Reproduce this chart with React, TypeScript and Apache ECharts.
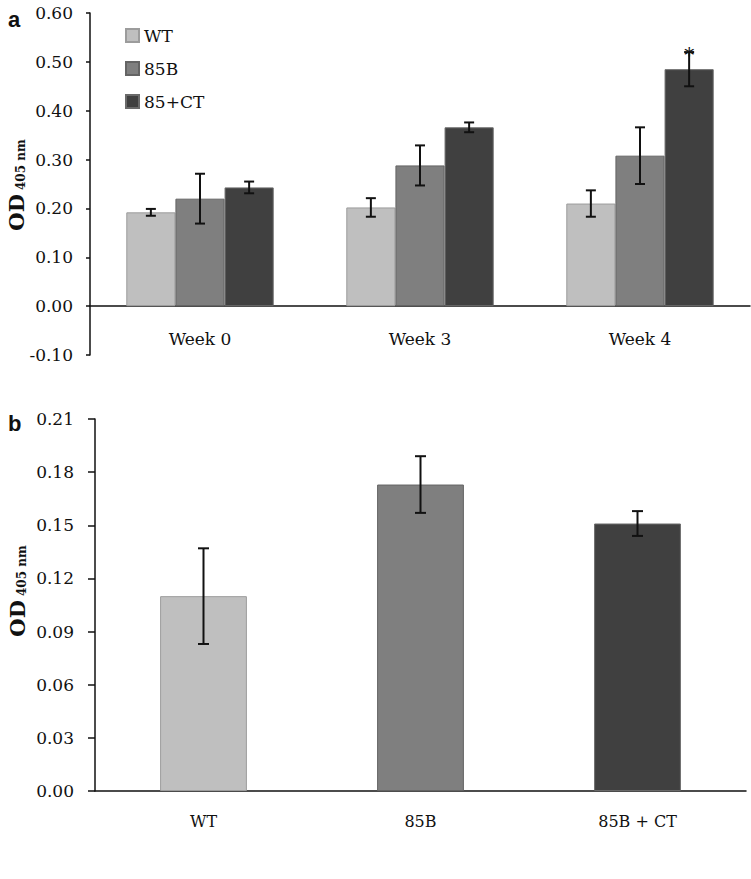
import React, { useEffect, useRef } from "react";
import * as echarts from "echarts";

// ---- Panel a data ----
const categoriesA = ["Week 0", "Week 3", "Week 4"];
const seriesNamesA = ["WT", "85B", "85+CT"];
const wtA = [0.192, 0.202, 0.21];
const b85A = [0.22, 0.288, 0.308];
const ctA = [0.243, 0.366, 0.485];
const wtErrA = [0.007, 0.019, 0.027];
const b85ErrA = [0.051, 0.041, 0.058];
const ctErrA = [0.012, 0.01, 0.035];
const ctSigA = [false, false, true];
const yMinA = -0.1;
const yMaxA = 0.6;
const yStepA = 0.1;

// ---- Panel b data ----
const categoriesB = ["WT", "85B", "85B + CT"];
const valuesB = [0.11, 0.173, 0.151];
const errB = [0.027, 0.016, 0.007];
const yMinB = 0;
const yMaxB = 0.21;
const yStepB = 0.03;

const fills = ["#bfbfbf", "#7f7f7f", "#404040"];
const borders = ["#9c9c9c", "#646464", "#6a6a6a"];
const SERIF = "'DejaVu Serif', serif";
const CAT_GAP_A = 0.33;

export default function App() {
  const ref = useRef<HTMLDivElement>(null);
  useEffect(() => {
    if (!ref.current) return;
    const chart = echarts.init(ref.current, null, { renderer: "svg" });

    const valsA = [wtA, b85A, ctA];
    const errsA = [wtErrA, b85ErrA, ctErrA];
    const errDataA: any[] = [];
    valsA.forEach((arr, s) =>
      arr.forEach((v, c) => {
        errDataA.push([c, v, errsA[s][c], s, s === 2 && ctSigA[c] ? 1 : 0]);
      })
    );
    const errDataB = valuesB.map((v, c) => [c, v, errB[c]]);

    const errRenderA = (params: any, api: any) => {
      const c = api.value(0);
      const v = api.value(1);
      const e = api.value(2);
      const s = api.value(3);
      const sig = api.value(4);
      const band = api.size([1, 0])[0];
      const bw = (band * (1 - CAT_GAP_A)) / 3;
      const x = api.coord([c, 0])[0] + (s - 1) * bw;
      const yt = api.coord([c, v + e])[1];
      const yb = api.coord([c, v - e])[1];
      const st = { stroke: "#111", lineWidth: 2 };
      const children: any[] = [
        { type: "line", shape: { x1: x, y1: yt, x2: x, y2: yb }, style: st },
        { type: "line", shape: { x1: x - 5, y1: yt, x2: x + 5, y2: yt }, style: st },
        { type: "line", shape: { x1: x - 5, y1: yb, x2: x + 5, y2: yb }, style: st },
      ];
      if (sig) {
        children.push({
          type: "text",
          x: x,
          y: yt + 3,
          style: {
            text: "*",
            fontSize: 20,
            fontFamily: SERIF,
            fill: "#111",
            align: "center",
            verticalAlign: "middle",
          },
        });
      }
      return { type: "group", children };
    };

    const errRenderB = (params: any, api: any) => {
      const c = api.value(0);
      const v = api.value(1);
      const e = api.value(2);
      const x = api.coord([c, 0])[0];
      const yt = api.coord([c, v + e])[1];
      const yb = api.coord([c, v - e])[1];
      const st = { stroke: "#111", lineWidth: 2 };
      return {
        type: "group",
        children: [
          { type: "line", shape: { x1: x, y1: yt, x2: x, y2: yb }, style: st },
          { type: "line", shape: { x1: x - 5.5, y1: yt, x2: x + 5.5, y2: yt }, style: st },
          { type: "line", shape: { x1: x - 5.5, y1: yb, x2: x + 5.5, y2: yb }, style: st },
        ],
      };
    };

    const axisLine = { lineStyle: { color: "#111", width: 1.5 } };
    const titleRich = {
      a: { fontSize: 21, fontWeight: "bold", fontFamily: SERIF, fill: "#111", verticalAlign: "bottom" },
      b: { fontSize: 12, fontWeight: "bold", fontFamily: SERIF, fill: "#111", verticalAlign: "bottom" },
    };

    chart.setOption({
      animation: false,
      textStyle: { fontFamily: SERIF },
      grid: [
        { left: 90, top: 13, width: 660, height: 342 },
        { left: 95, top: 419, width: 651, height: 372 },
      ],
      legend: {
        data: seriesNamesA,
        orient: "vertical",
        left: 125,
        top: 27,
        padding: 0,
        itemWidth: 13,
        itemHeight: 13,
        itemGap: 16,
        icon: "rect",
        textStyle: { fontFamily: SERIF, fontSize: 17, color: "#111" },
      },
      xAxis: [
        {
          type: "category",
          gridIndex: 0,
          data: categoriesA,
          axisLine,
          axisTick: { length: 6, lineStyle: { color: "#111", width: 1.5 } },
          axisLabel: { color: "#111", fontSize: 17, fontFamily: SERIF, margin: -25 },
        },
        {
          type: "category",
          gridIndex: 1,
          data: categoriesB,
          axisLine,
          axisTick: { length: 6, lineStyle: { color: "#111", width: 1.5 } },
          axisLabel: { color: "#111", fontSize: 16, fontFamily: SERIF, margin: 22 },
        },
      ],
      yAxis: [
        {
          type: "value",
          gridIndex: 0,
          min: yMinA,
          max: yMaxA,
          interval: yStepA,
          splitLine: { show: false },
          axisLine: { show: true, ...axisLine },
          axisTick: { show: true, length: 4, lineStyle: { color: "#111", width: 1.5 } },
          axisLabel: {
            color: "#111",
            fontSize: 17,
            fontFamily: SERIF,
            margin: 17,
            formatter: (v: number) => v.toFixed(2),
          },
        },
        {
          type: "value",
          gridIndex: 1,
          min: yMinB,
          max: yMaxB,
          interval: yStepB,
          splitLine: { show: false },
          axisLine: { show: true, ...axisLine },
          axisTick: { show: true, length: 7, lineStyle: { color: "#111", width: 1.5 } },
          axisLabel: {
            color: "#111",
            fontSize: 17,
            fontFamily: SERIF,
            margin: 21,
            formatter: (v: number) => v.toFixed(2),
          },
        },
      ],
      series: [
        ...valsA.map((arr, s) => ({
          type: "bar",
          name: seriesNamesA[s],
          xAxisIndex: 0,
          yAxisIndex: 0,
          data: arr,
          barGap: "0%",
          barCategoryGap: CAT_GAP_A * 100 + "%",
          itemStyle: { color: fills[s], borderColor: borders[s], borderWidth: 1 },
        })),
        {
          type: "custom",
          name: "errA",
          xAxisIndex: 0,
          yAxisIndex: 0,
          data: errDataA,
          renderItem: errRenderA,
          z: 10,
        },
        {
          type: "bar",
          name: "panelB",
          xAxisIndex: 1,
          yAxisIndex: 1,
          barWidth: "40%",
          data: valuesB.map((v, i) => ({
            value: v,
            itemStyle: { color: fills[i], borderColor: borders[i], borderWidth: 1 },
          })),
        },
        {
          type: "custom",
          name: "errB",
          xAxisIndex: 1,
          yAxisIndex: 1,
          data: errDataB,
          renderItem: errRenderB,
          z: 10,
        },
      ],
      graphic: [
        {
          type: "text",
          left: 8,
          top: 8,
          style: {
            text: "a",
            fontSize: 22,
            fontWeight: "bold",
            fontFamily: "'Liberation Sans', Arial, sans-serif",
            fill: "#111",
          },
        },
        {
          type: "text",
          left: 8,
          top: 412,
          style: {
            text: "b",
            fontSize: 22,
            fontWeight: "bold",
            fontFamily: "'Liberation Sans', Arial, sans-serif",
            fill: "#111",
          },
        },
        {
          type: "text",
          x: 16,
          y: 185,
          rotation: Math.PI / 2,
          style: {
            text: "{a|OD}{b| 405 nm}",
            align: "center",
            verticalAlign: "middle",
            fill: "#111",
            rich: titleRich,
          },
        },
        {
          type: "text",
          x: 17,
          y: 591,
          rotation: Math.PI / 2,
          style: {
            text: "{a|OD}{b| 405 nm}",
            align: "center",
            verticalAlign: "middle",
            fill: "#111",
            rich: titleRich,
          },
        },
      ],
    });
    return () => chart.dispose();
  }, []);
  return (
    <div
      ref={ref}
      style={{ position: "absolute", left: 0, top: 0, width: 751, height: 879, background: "#fff" }}
    />
  );
}
